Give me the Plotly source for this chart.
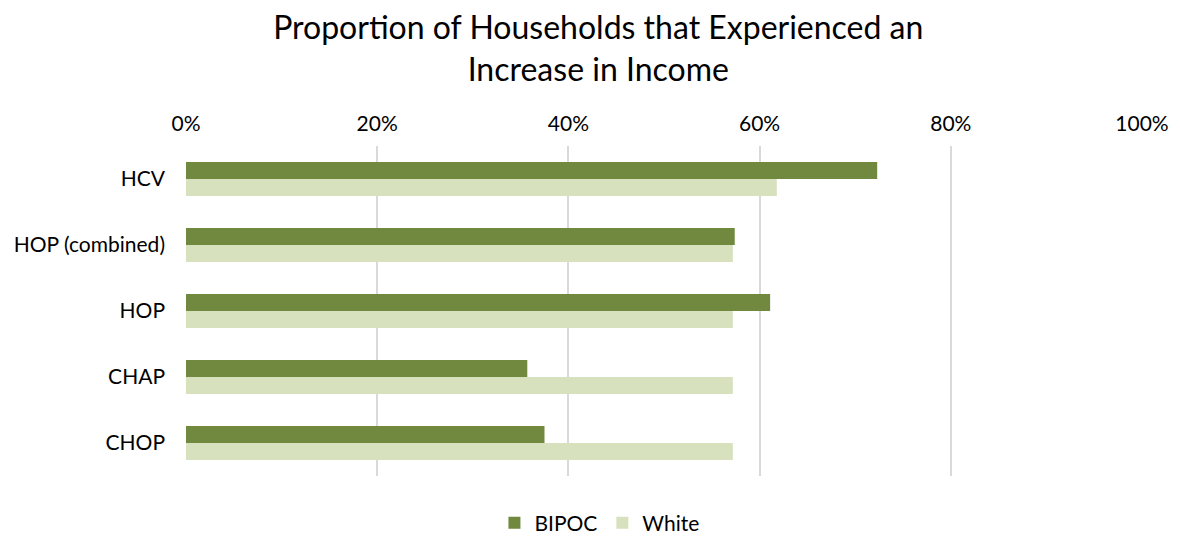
import plotly.graph_objects as go

categories = ["HCV", "HOP (combined)", "HOP", "CHAP", "CHOP"]
bipoc = [72.3, 57.4, 61.1, 35.7, 37.5]
white = [61.8, 57.2, 57.2, 57.2, 57.2]
tick_vals = [0, 20, 40, 60, 80, 100]
tick_text = ["0%", "20%", "40%", "60%", "80%", "100%"]

FONT = "Lato"

fig = go.Figure()
fig.add_trace(go.Bar(y=categories, x=bipoc, name="BIPOC", orientation="h",
                     marker=dict(color="#71893f", line=dict(width=0))))
fig.add_trace(go.Bar(y=categories, x=white, name="White", orientation="h",
                     marker=dict(color="#d8e1bd", line=dict(width=0))))

fig.update_layout(
    width=1180, height=536,
    margin=dict(l=186, r=38, t=146, b=60, autoexpand=False),
    paper_bgcolor="white", plot_bgcolor="white",
    barmode="group", bargap=0.485, bargroupgap=0,
    title=dict(text="Proportion of Households that Experienced an<br>Increase in Income",
               x=0.507, xanchor="center", y=0.927, yanchor="top", yref="container",
               font=dict(family=FONT, size=32, color="#000000")),
    font=dict(family=FONT, size=21, color="#000000"),
    xaxis=dict(side="top", range=[0, 100], tickvals=tick_vals, ticktext=tick_text,
               showgrid=True, gridcolor="#d9d9d9", gridwidth=2, zeroline=False,
               showline=False, ticks="", ticklabelstandoff=10,
               tickfont=dict(family=FONT, size=21)),
    yaxis=dict(autorange="reversed", showgrid=False, zeroline=False, showline=False,
               ticks="", ticklabelstandoff=20, tickfont=dict(family=FONT, size=21)),
    legend=dict(orientation="h", x=0.508, xanchor="center", xref="container",
                y=0.024, yanchor="middle", yref="container",
                font=dict(family=FONT, size=21), traceorder="normal"),
)

fig.write_html("out.html")
